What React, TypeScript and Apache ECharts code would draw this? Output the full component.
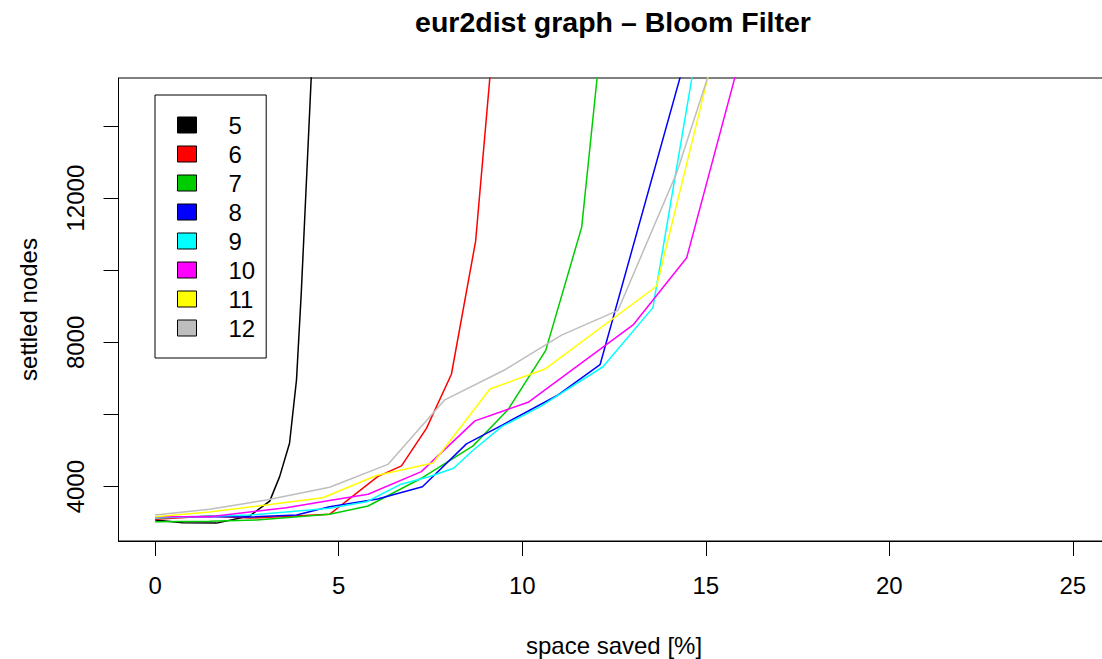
import React, { useEffect, useRef } from "react";
import * as echarts from "echarts";

const FONT = "'Liberation Sans', Arial, Helvetica, sans-serif";

const seriesNames = ["5", "6", "7", "8", "9", "10", "11", "12"];
const seriesColors = ["#000000", "#FF0000", "#00CD00", "#0000FF", "#00FFFF", "#FF00FF", "#FFFF00", "#BEBEBE"];

const xTicks = [0, 5, 10, 15, 20, 25];
const yTicks = [4000, 6000, 8000, 10000, 12000, 14000];
const yLabels = [4000, 8000, 12000];

const s5 = [[0, 3075], [0.75, 3000], [1.67, 2990], [2.57, 3186], [3.12, 3600], [3.39, 4278], [3.66, 5204], [3.85, 6964], [3.98, 9381], [4.3, 16430]];
const s6 = [[0, 3100], [1.5, 3190], [2.6, 3130], [4.75, 3233], [6.06, 4278], [6.71, 4575], [7.39, 5617], [8.07, 7117], [8.73, 10806], [9.2, 16300]];
const s7 = [[0, 3028], [1.48, 3040], [2.76, 3075], [4.75, 3233], [5.8, 3464], [7.25, 4233], [8.66, 5131], [9.61, 6131], [10.64, 7778], [11.62, 11195], [12.3, 17900]];
const s8 = [[0, 3160], [1.48, 3170], [2.57, 3160], [3.85, 3215], [4.75, 3445], [6.06, 3660], [7.28, 4000], [8.48, 5186], [9.44, 5700], [10.94, 6520], [12.12, 7381], [15.0, 17900]];
const s9 = [[0, 3130], [2.57, 3214], [4.75, 3400], [5.76, 3583], [6.7, 4070], [7.48, 4280], [8.13, 4511], [8.66, 5010], [9.44, 5667], [10.48, 6214], [12.2, 7325], [13.56, 8964], [15.0, 17600]];
const s10 = [[0, 3167], [1.48, 3167], [3.57, 3417], [4.75, 3617], [5.8, 3789], [7.25, 4417], [8.71, 5825], [10.16, 6339], [13.02, 8484], [14.48, 10345], [16.0, 16130]];
const s11 = [[0, 3167], [1.48, 3297], [4.57, 3694], [6.03, 4311], [7.57, 4658], [9.12, 6706], [10.62, 7261], [13.66, 9556], [15.07, 15400]];
const s12 = [[0, 3214], [1.48, 3372], [3.03, 3631], [4.75, 3983], [6.34, 4617], [7.89, 6408], [9.53, 7242], [11.07, 8200], [12.61, 8889], [14.21, 12706], [15.07, 15400]];

const seriesData = [s5, s6, s7, s8, s9, s10, s11, s12];

export default function App() {
  const ref = useRef<HTMLDivElement>(null);
  useEffect(() => {
    if (!ref.current) return;
    const chart = echarts.init(ref.current, undefined, { renderer: "svg" });
    const option: any = {
      animation: false,
      backgroundColor: "#ffffff",
      graphic: [
        {
          type: "text",
          x: 613,
          y: 22,
          style: {
            text: "eur2dist graph \u2013 Bloom Filter",
            fontSize: 28.5,
            fontWeight: "bold",
            fontFamily: FONT,
            fill: "#000",
            align: "center",
            verticalAlign: "middle",
          },
        },
      ],
      grid: {
        left: 118.5,
        right: -7.5,
        top: 78,
        bottom: 118,
        show: true,
        borderColor: "#000",
        borderWidth: 1,
        backgroundColor: "transparent",
        containLabel: false,
        outerBoundsMode: "none",
      },
      legend: {
        orient: "vertical",
        left: 155,
        top: 95,
        padding: [18, 11, 18, 22],
        borderColor: "#000",
        borderWidth: 1,
        itemWidth: 19,
        itemHeight: 16,
        itemGap: 5,
        selectedMode: false,
        textStyle: { fontSize: 24, color: "#000", padding: [0, 0, 0, 27], fontFamily: FONT },
        data: seriesNames.map((n, i) => ({
          name: n,
          icon: "rect",
          itemStyle: { color: seriesColors[i], borderColor: "#000", borderWidth: 1 },
        })),
      },
      xAxis: {
        type: "value",
        min: -1,
        max: 26,
        name: "space saved [%]",
        nameLocation: "middle",
        nameGap: 92,
        nameTextStyle: { fontSize: 24, color: "#000", fontFamily: FONT },
        axisLine: { show: true, onZero: false, lineStyle: { color: "#000", width: 1 } },
        axisTick: { show: true, length: 15, customValues: xTicks, lineStyle: { color: "#000", width: 1 } },
        axisLabel: { customValues: xTicks, fontSize: 24, color: "#000", margin: 32, fontFamily: FONT, formatter: (v: number) => String(v) },
        splitLine: { show: false },
      },
      yAxis: {
        type: "value",
        min: 2494,
        max: 15330,
        name: "settled nodes",
        nameLocation: "middle",
        nameGap: 78,
        nameTextStyle: { fontSize: 24, color: "#000", fontFamily: FONT },
        axisLine: { show: true, onZero: false, lineStyle: { color: "#000", width: 1 } },
        axisTick: { show: true, length: 15, customValues: yTicks, lineStyle: { color: "#000", width: 1 } },
        axisLabel: { customValues: yLabels, rotate: 90, fontSize: 24, color: "#000", margin: 31, fontFamily: FONT, formatter: (v: number) => String(v) },
        splitLine: { show: false },
      },
      series: seriesNames.map((n, i) => ({
        name: n,
        type: "line",
        data: seriesData[i],
        showSymbol: false,
        symbol: "none",
        clip: true,
        color: seriesColors[i],
        lineStyle: { color: seriesColors[i], width: 1.5 },
        itemStyle: { color: seriesColors[i] },
        emphasis: { disabled: true },
      })),
    };
    chart.setOption(option);
    return () => chart.dispose();
  }, []);
  return (
    <div
      ref={ref}
      style={{ position: "fixed", left: 0, top: 0, width: 1102, height: 659, background: "#fff" }}
    />
  );
}
